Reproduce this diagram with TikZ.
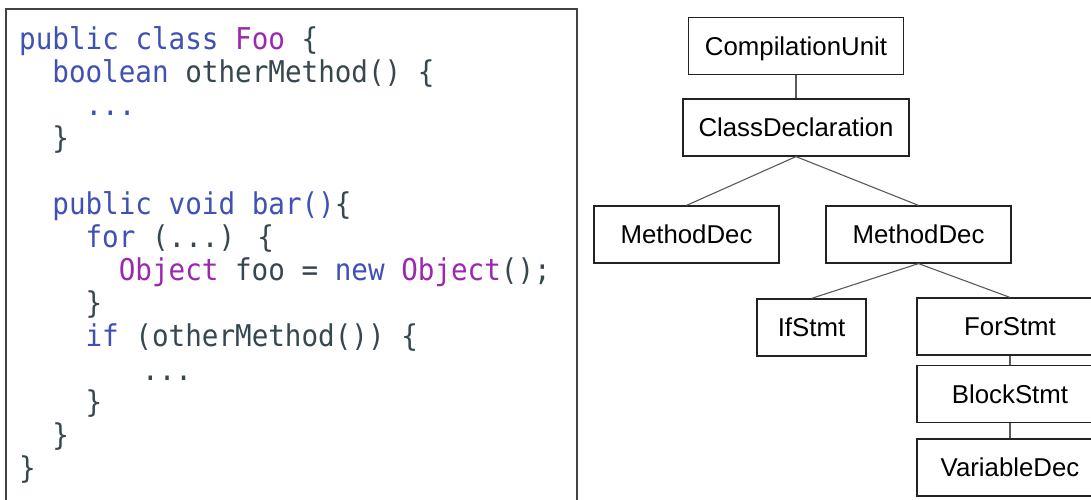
\documentclass[tikz,border=0pt]{standalone}
\usepackage{fontspec}
\setmainfont{Liberation Sans}
\newfontfamily\codefont[FakeStretch=0.92]{DejaVu Sans Mono}
\definecolor{kw}{HTML}{3F51B5}
\definecolor{ty}{HTML}{9C27B0}
\definecolor{tx}{HTML}{37474F}
\definecolor{edge}{HTML}{5A5A5A}
\definecolor{frame}{HTML}{222222}
\newcommand{\kw}[1]{\textcolor{kw}{#1}}
\newcommand{\ty}[1]{\textcolor{ty}{#1}}
\begin{document}
\begin{tikzpicture}[x=1pt,y=-1pt,
  codeline/.style={anchor=base west,inner sep=0pt,text=tx,
    font=\codefont\fontsize{30}{33}\selectfont},
  astnode/.style={draw=frame,line width=1.2pt,inner sep=0pt,
    minimum height=57pt,text height=18.6pt,text depth=0pt,
    font=\fontsize{25.8}{30}\selectfont},
  astedge/.style={draw=edge,line width=1.1pt}]
\useasboundingbox (0,0) rectangle (1091,500);
\clip (0,0) rectangle (1091,500);
\fill[white] (0,0) rectangle (1091,500);

% source code panel
\draw[draw=frame!85,line width=1.4pt] (6,510) |- (577,9) -- (577,510);
\node[codeline] (l1)  at (19,49.5)    {\kw{public class} \ty{Foo} \{};
\node[codeline] (l2)  at (52.2,82.5)  {\kw{boolean} otherMethod() \{};
\node[codeline] (l3)  at (85.4,115.5) {\kw{...}};
\node[codeline] (l4)  at (52.2,148.5) {\}};
\node[codeline] (l6)  at (52.2,214.5) {\kw{public void bar()}\{};
\node[codeline] (l7)  at (85.4,247.5) {\kw{for} (...) \{};
\node[codeline] (l8)  at (118.6,280.5){\ty{Object} foo = \kw{new} \ty{Object}();};
\node[codeline] (l9)  at (85.4,313.5) {\}};
\node[codeline] (l10) at (85.4,346.5) {\kw{if} (otherMethod()) \{};
\node[codeline] (l11) at (142,380)    {...};
\node[codeline] (l12) at (85.4,412.5) {\}};
\node[codeline] (l13) at (52.2,445.5) {\}};
\node[codeline] (l14) at (19,478.5)   {\}};

% syntax tree
\node[astnode,minimum width=215pt] (cu)  at (796,46)     {CompilationUnit};
\node[astnode,minimum width=226pt] (cd)  at (796,127.5)  {ClassDeclaration};
\node[astnode,minimum width=185pt] (md1) at (686.5,234.5){MethodDec};
\node[astnode,minimum width=185pt] (md2) at (918.5,234.5){MethodDec};
\node[astnode,minimum width=109pt] (ifs) at (811.5,327.5){IfStmt};
\node[astnode,minimum width=186pt] (fors) at (1010,326.5){ForStmt};
\node[astnode,minimum width=186pt] (blk) at (1010,394)   {BlockStmt};
\node[astnode,minimum width=186pt] (var) at (1010,467.5) {VariableDec};

\path[astedge] (cu.south) -- (cd.north);
\path[astedge] (cd.south) -- (md1.north);
\path[astedge] (cd.south) -- (md2.north);
\path[astedge] (md2.south) -- (ifs.north);
\path[astedge] (md2.south) -- (fors.north);
\path[astedge] (fors.south) -- (blk.north);
\path[astedge] (blk.south) -- (var.north);
\end{tikzpicture}
\end{document}
